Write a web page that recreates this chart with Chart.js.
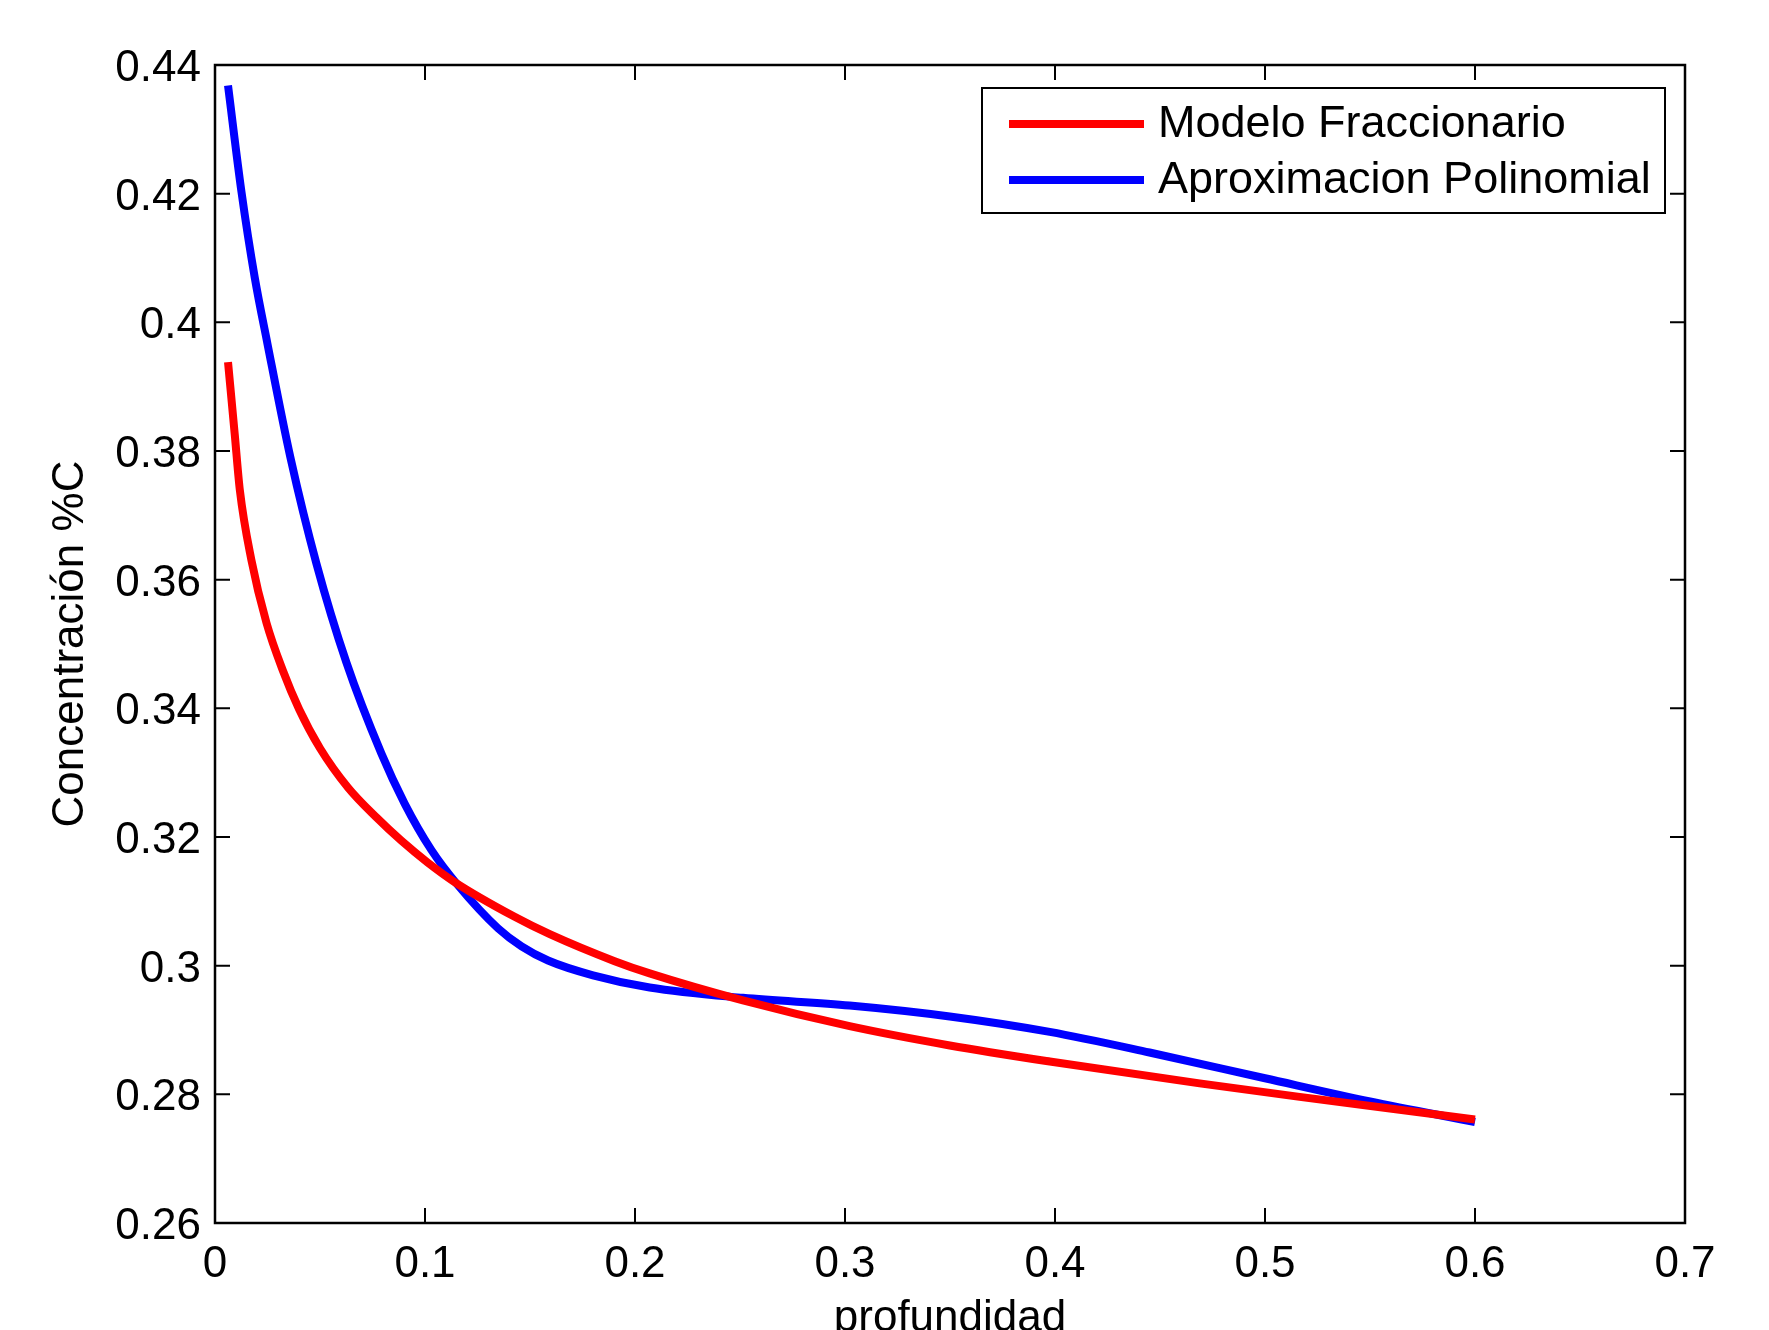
<!DOCTYPE html>
<html lang="es">

<head>
    <meta charset="UTF-8" />
    <title>Concentración vs profundidad</title>
    <script src="https://cdn.jsdelivr.net/npm/chart.js"></script>
    <style>
        html, body { margin: 0; padding: 0; background: #fff; overflow: hidden; }
        canvas { display: block; }
    </style>
</head>

<body>
    <canvas id="grafico" width="1769" height="1330"></canvas>

<script>
    // Datos
    const profFraccionario = [0.0062, 0.0094, 0.0118, 0.0173, 0.0245, 0.0324, 0.0400, 0.0500, 0.0633, 0.0770, 0.0888, 0.1010,
        0.1141, 0.1427, 0.1594, 0.1903, 0.2070, 0.2514, 0.3022, 0.3499, 0.3975, 0.4689, 0.5165, 0.5641, 0.6];
    const concFraccionario = [0.3938, 0.3826, 0.3740, 0.3631, 0.3533, 0.3458, 0.3399, 0.3338, 0.3277, 0.3230, 0.3194, 0.3161,
        0.3130, 0.3076, 0.3049, 0.3007, 0.2988, 0.2946, 0.2906, 0.2876, 0.2851, 0.2817, 0.2796, 0.2776, 0.2761];

    const profPolinomial = [0.0062, 0.0126, 0.0189, 0.0249, 0.0359, 0.0483, 0.0626, 0.0792, 0.0903, 0.1030, 0.1157, 0.1348,
        0.1460, 0.1586, 0.1800, 0.2070, 0.2514, 0.3022, 0.3499, 0.3975, 0.4450, 0.5000, 0.5500, 0.6];
    const concPolinomial = [0.4368, 0.4203, 0.4070, 0.3968, 0.3790, 0.3625, 0.3471, 0.3330, 0.3252, 0.3180, 0.3125, 0.3058,
        0.3030, 0.3008, 0.2985, 0.2966, 0.2950, 0.2938, 0.2921, 0.2897, 0.2865, 0.2825, 0.2789, 0.2757];

    const ticksX = [0, 0.1, 0.2, 0.3, 0.4, 0.5, 0.6, 0.7];
    const ticksY = [0.26, 0.28, 0.3, 0.32, 0.34, 0.36, 0.38, 0.4, 0.42, 0.44];

    const series = ['Modelo Fraccionario', 'Aproximacion Polinomial'];

    const fuente = { family: '"Liberation Sans", Arial, Helvetica, sans-serif', size: 44 };

    function juntar(xs, ys) {
        let pts = [];
        for (let i = 0; i < xs.length; i++) {
            pts.push({ x: xs[i], y: ys[i] });
        }
        return pts;
    }

    // caja del eje + ticks hacia adentro (estilo MATLAB)
    const cajaEjes = {
        id: 'cajaEjes',
        afterDatasetsDraw(chart) {
            const { ctx, chartArea: a, scales } = chart;
            const largo = 15;
            ctx.save();
            ctx.strokeStyle = '#000';
            ctx.lineWidth = 2;
            ctx.beginPath();
            ticksX.forEach(v => {
                const px = scales.x.getPixelForValue(v);
                ctx.moveTo(px, a.bottom); ctx.lineTo(px, a.bottom - largo);
                ctx.moveTo(px, a.top); ctx.lineTo(px, a.top + largo);
            });
            ticksY.forEach(v => {
                const py = scales.y.getPixelForValue(v);
                ctx.moveTo(a.left, py); ctx.lineTo(a.left + largo, py);
                ctx.moveTo(a.right, py); ctx.lineTo(a.right - largo, py);
            });
            ctx.stroke();
            ctx.lineWidth = 2.5;
            ctx.strokeRect(a.left, a.top, a.right - a.left, a.bottom - a.top);
            ctx.restore();
        }
    };

    // leyenda dentro del area, arriba a la derecha
    const leyenda = {
        id: 'leyenda',
        afterDraw(chart) {
            const { ctx, chartArea: a } = chart;
            const w = 683, h = 125;
            const x0 = a.right - 20 - w, y0 = a.top + 23;
            ctx.save();
            ctx.fillStyle = '#fff';
            ctx.fillRect(x0, y0, w, h);
            ctx.strokeStyle = '#000';
            ctx.lineWidth = 2;
            ctx.strokeRect(x0, y0, w, h);
            chart.data.datasets.forEach((ds, i) => {
                const y = y0 + 36 + i * 56;
                ctx.strokeStyle = ds.borderColor;
                ctx.lineWidth = 8;
                ctx.beginPath();
                ctx.moveTo(x0 + 27, y);
                ctx.lineTo(x0 + 162, y);
                ctx.stroke();
                ctx.fillStyle = '#000';
                ctx.font = `45px ${fuente.family}`;
                ctx.textBaseline = 'middle';
                ctx.fillText(ds.label, x0 + 176, y + 1);
            });
            ctx.restore();
        }
    };

    const config = {
        type: 'line',
        data: {
            datasets: [{
                label: series[0],
                data: juntar(profFraccionario, concFraccionario),
                borderColor: '#ff0000',
                borderWidth: 8,
                borderCapStyle: 'butt',
                pointRadius: 0,
                cubicInterpolationMode: 'monotone',
                fill: false
            }, {
                label: series[1],
                data: juntar(profPolinomial, concPolinomial),
                borderColor: '#0000ff',
                borderWidth: 8,
                borderCapStyle: 'butt',
                pointRadius: 0,
                cubicInterpolationMode: 'monotone',
                fill: false
            }]
        },
        options: {
            responsive: false,
            animation: false,
            layout: { padding: { top: 65, right: 84, left: 0, bottom: 0 } },
            plugins: {
                legend: { display: false },
                tooltip: { enabled: false }
            },
            scales: {
                x: {
                    type: 'linear',
                    min: 0,
                    max: 0.7,
                    afterBuildTicks: s => { s.ticks = ticksX.map(v => ({ value: v })); },
                    afterFit: s => { s.height = 107; },
                    grid: { display: false, drawTicks: false },
                    border: { display: false },
                    ticks: { color: '#000', font: fuente, padding: 15, maxRotation: 0, autoSkip: false, callback: v => String(v) },
                    title: { display: true, text: 'profundidad', color: '#000', font: fuente, padding: { top: 0, bottom: -15 } }
                },
                y: {
                    type: 'linear',
                    min: 0.26,
                    max: 0.44,
                    afterBuildTicks: s => { s.ticks = ticksY.map(v => ({ value: v })); },
                    afterFit: s => { s.width = 215; },
                    grid: { display: false, drawTicks: false },
                    border: { display: false },
                    ticks: { color: '#000', font: fuente, padding: 14, labelOffset: 4, autoSkip: false, callback: v => String(v) },
                    title: { display: true, text: 'Concentración %C', color: '#000', font: fuente, padding: { top: 44, bottom: 0 } }
                }
            }
        },
        plugins: [cajaEjes, leyenda]
    };

    let grafico = new Chart(document.getElementById('grafico'), config);
</script>
</body>

</html>
